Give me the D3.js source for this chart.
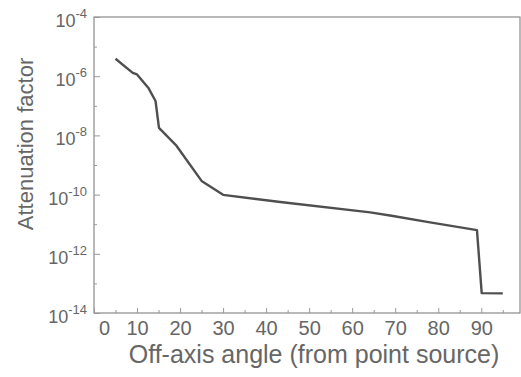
<!DOCTYPE html>
<html>
<head>
<meta charset="utf-8">
<script src="https://cdn.jsdelivr.net/npm/d3@7"></script>
<style>
  body { margin: 0; background: #fff; }
  text { font-family: "Liberation Sans", Arial, sans-serif; fill: #666; }
</style>
</head>
<body>
<div id="chart"></div>
<script>
// off-axis angle (degrees) and attenuation factor
const angles = [5, 9, 10, 12.6, 14.3, 15.1, 19.2, 25, 30, 43.3, 64.2, 69.5, 77.4, 89, 90.1, 95];
const attenuation = [3.9e-6, 1.3e-6, 1.15e-6, 4.1e-7, 1.45e-7, 1.8e-8, 4.4e-9, 2.9e-10, 9.8e-11,
  5.6e-11, 2.5e-11, 1.9e-11, 1.2e-11, 6.3e-12, 4.7e-14, 4.6e-14];
const xTicks = [0, 10, 20, 30, 40, 50, 60, 70, 80, 90];
const yExponents = [-4, -6, -8, -10, -12, -14];

const W = 521, H = 377;
const margin = { top: 17, right: 1, bottom: 64, left: 94 };
const width = W - margin.left - margin.right;
const height = H - margin.top - margin.bottom;

const svg = d3.select("#chart")
  .append("svg")
    .attr("width", W)
    .attr("height", H)
  .append("g")
    .attr("transform", `translate(${margin.left},${margin.top})`);

const x = d3.scaleLinear().domain([0, 99]).range([0, width]);
const y = d3.scaleLog().domain([1e-14, 1e-4]).range([height, 0]);

// frame
svg.append("rect")
  .attr("width", width).attr("height", height)
  .attr("fill", "none").attr("stroke", "#8a8a8a").attr("stroke-width", 1.2);

// x axis, ticks pointing inward
const xAxis = svg.append("g")
  .attr("transform", `translate(0,${height})`)
  .call(d3.axisBottom(x).tickValues(xTicks).tickSize(-5).tickPadding(8).tickFormat(d3.format("d")));
svg.append("g")
  .attr("transform", `translate(0,${height})`)
  .call(d3.axisBottom(x).tickValues(d3.range(5, 99, 10)).tickSize(-3).tickFormat(""));
xAxis.selectAll("text").style("font-size", "20px").attr("fill", "#666");
xAxis.select(".tick text").attr("dx", 10);

// y axis, ticks pointing inward, labels as 10 with superscript exponent
svg.append("g")
  .call(d3.axisLeft(y).tickValues(yExponents.map(e => Math.pow(10, e))).tickSize(-6).tickFormat(""));
svg.append("g")
  .call(d3.axisLeft(y).tickValues([-5, -7, -9, -11, -13].map(e => Math.pow(10, e))).tickSize(-3).tickFormat(""));
svg.selectAll(".domain").remove();
svg.selectAll(".tick line").attr("stroke", "#999");

yExponents.forEach(e => {
  const t = svg.append("text")
    .attr("x", -7)
    .attr("y", y(Math.pow(10, e)) + 10)
    .attr("text-anchor", "end")
    .style("font-size", "18px");
  t.append("tspan").text("10");
  t.append("tspan").attr("dy", -9).style("font-size", "13px").text(String(e));
});

// curve
const line = d3.line()
  .x((d, i) => x(angles[i]))
  .y(d => y(d));
svg.append("path")
  .datum(attenuation)
  .attr("fill", "none")
  .attr("stroke", "#4f4f4f")
  .attr("stroke-width", 2.4)
  .attr("stroke-linejoin", "round")
  .attr("d", line);

// axis titles
svg.append("text")
  .attr("x", 220)
  .attr("y", height + 50)
  .attr("text-anchor", "middle")
  .style("font-size", "25px")
  .text("Off-axis angle (from point source)");

svg.append("text")
  .attr("transform", `translate(${-61},${127}) rotate(-90)`)
  .attr("text-anchor", "middle")
  .style("font-size", "22px")
  .text("Attenuation factor");
</script>
</body>
</html>
